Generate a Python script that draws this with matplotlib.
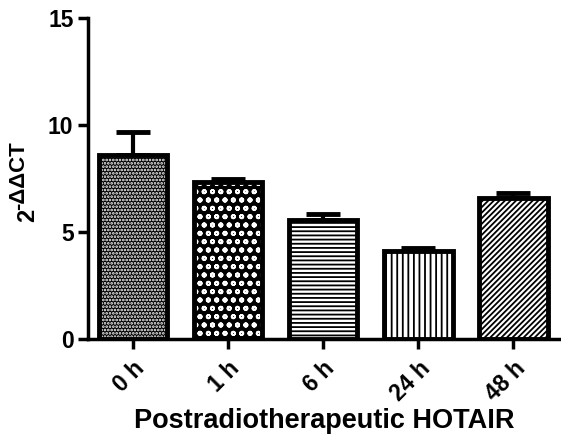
import numpy as np
import matplotlib
matplotlib.use("Agg")
import matplotlib.pyplot as plt

plt.rcParams['font.family'] = ['Liberation Sans', 'DejaVu Sans']
plt.rcParams['font.weight'] = 'bold'
plt.rcParams['hatch.linewidth'] = 1.3

groups = ["0 h", "1 h", "6 h", "24 h", "48 h"]
means = [8.6, 7.33, 5.56, 4.1, 6.55]
errs = [1.05, 0.13, 0.25, 0.14, 0.23]
hatches = ['.....', 'oo', '----', '|||', '//////']
faces = ['black', 'black', 'white', 'white', 'white']
hcols = ['white', 'white', 'black', 'black', 'black']

fig, ax = plt.subplots(figsize=(5.61, 4.38), dpi=100)
fig.subplots_adjust(left=0.157, right=1.0, top=0.96, bottom=0.227)

x = np.arange(len(groups))
for i in range(len(groups)):
    ax.bar(x[i], means[i], width=0.72, color=faces[i], edgecolor=hcols[i],
           hatch=hatches[i], linewidth=0, zorder=2)
ax.bar(x, means, width=0.72, color='none', edgecolor='black', linewidth=3.5, zorder=3)
ax.errorbar(x, means, yerr=[np.zeros(len(means)), errs], fmt='none', ecolor='black',
            elinewidth=3, capsize=12, capthick=3.5, zorder=1)

ax.set_xlim(-0.47, 4.5)
ax.set_ylim(0, 15)
ax.set_yticks([0, 5, 10, 15])
ax.set_xticks(x)
ax.set_xticklabels(groups, rotation=45, ha='right', rotation_mode='anchor')
ax.spines['top'].set_visible(False)
ax.spines['right'].set_visible(False)
ax.spines['left'].set_linewidth(2.5)
ax.spines['bottom'].set_linewidth(2.5)
ax.tick_params(width=2.5, length=7, labelsize=16.5)
ax.tick_params(axis='x', pad=6)
ax.set_xlabel('Postradiotherapeutic HOTAIR', fontsize=19.5, fontweight='bold', labelpad=2)

# y label: 2 with a large superscript
fig.text(0.050, 0.524, '2', rotation=90, ha='center', va='top', fontsize=17)
fig.text(0.033, 0.521, '-\u0394\u0394CT', rotation=90, ha='center', va='bottom', fontsize=16)

fig.savefig("out.png", dpi=100)
